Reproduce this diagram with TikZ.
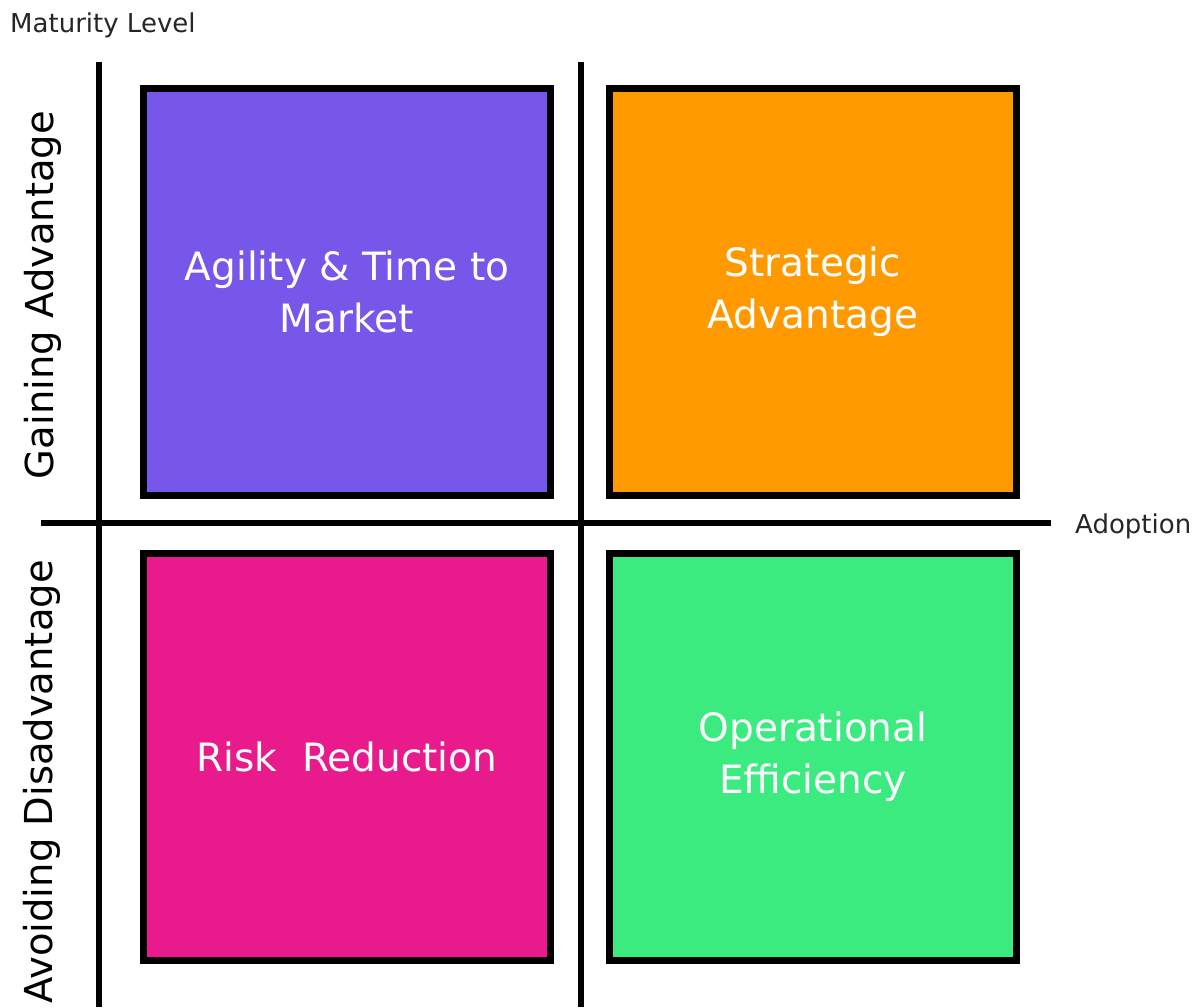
\documentclass[tikz,border=0pt]{standalone}
\usepackage{fontspec}
\setmainfont{DejaVu Sans}
\usetikzlibrary{positioning}
\definecolor{agilepurple}{HTML}{7657EA}
\definecolor{stratorange}{HTML}{FF9900}
\definecolor{riskpink}{HTML}{E91A8C}
\definecolor{opsgreen}{HTML}{3CEB80}
\tikzstyle{quad} = [rectangle, draw, line width=7.5pt, minimum width=407pt,
    minimum height=407pt, text=white, align=center,
    font=\fontsize{39}{52}\selectfont]
\tikzstyle{axis} = [line width=5.5pt]
\tikzstyle{axlabel} = [inner sep=0pt, text=black!85, font=\fontsize{26}{30}\selectfont]
\tikzstyle{sidelabel} = [inner sep=0pt, rotate=90, anchor=base, font=\fontsize{38.5}{46}\selectfont]

\begin{document}
\begin{tikzpicture}[x=1pt, y=1pt, node distance=465pt]
  \useasboundingbox (0,0) rectangle (1199,-1007);

  % axes
  \coordinate (ytop) at (99,-62);
  \coordinate (ybot) at (99,-1007);
  \coordinate (mtop) at (581,-62);
  \coordinate (mbot) at (581,-1007);
  \coordinate (xl) at (41,-523);
  \coordinate (xr) at (1051,-523);
  \draw[axis] (ytop) -- (ybot);
  \draw[axis] (mtop) -- (mbot);
  \draw[axis] (xl) -- (xr);

  \node[axlabel, anchor=base west] (mat) at (10,-32) {Maturity Level};
  \node[axlabel, anchor=base west] (adopt) at (1075,-533) {Adoption};

  \node[sidelabel] (gain) at (53,-295) {Gaining Advantage};
  \node[sidelabel] (avoid) at (52,-782) {Avoiding Disadvantage};

  % quadrants
  \node[quad, fill=agilepurple] (agile) at (347,-291.75) {Agility \& Time to\\Market};
  \node[quad, fill=stratorange] (strat) [right of=agile, xshift=1pt] {Strategic\\Advantage};
  \node[quad, fill=riskpink] (risk) [below of=agile] {Risk\ \ Reduction};
  \node[quad, fill=opsgreen] (ops) [right of=risk, xshift=1pt] {Operational\\Efficiency};
\end{tikzpicture}
\end{document}
